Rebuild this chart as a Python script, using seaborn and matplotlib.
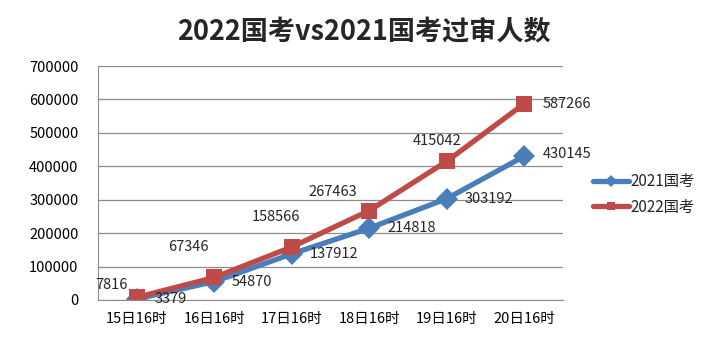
import pandas as pd
import numpy as np
import matplotlib
matplotlib.use('Agg')
import matplotlib.pyplot as plt
import seaborn as sns
from matplotlib.lines import Line2D

# ------------------------------
# data
# ------------------------------
times = ['15日16时', '16日16时', '17日16时', '18日16时', '19日16时', '20日16时']
counts_2021 = [3379, 54870, 137912, 214818, 303192, 430145]
counts_2022 = [7816, 67346, 158566, 267463, 415042, 587266]
series_names = ['2021国考', '2022国考']

df = pd.DataFrame({
    'time': times * 2,
    'count': counts_2021 + counts_2022,
    'series': [series_names[0]] * len(times) + [series_names[1]] * len(times),
})

# ------------------------------
# style
# ------------------------------
sns.set_style('white')
plt.rcParams['font.family'] = ['Noto Sans CJK SC', 'DejaVu Sans']

blue = '#4A7EBB'
red = '#BE4B48'
palette = {series_names[0]: blue, series_names[1]: red}

fig = plt.figure(figsize=(7.28, 3.57), dpi=100)
ax = fig.add_axes([0.1346, 0.1597, 0.6388, 0.6554])

sns.lineplot(data=df, x='time', y='count', hue='series', style='series',
             markers={series_names[0]: 'D', series_names[1]: 's'},
             dashes=False, palette=palette, linewidth=3.8, markersize=11,
             markeredgewidth=0, sort=False, ax=ax, legend=False)

ax.set_xlim(-0.5, len(times) - 0.5)
ax.set_ylim(0, 700000)
ax.set_yticks(np.arange(0, 700001, 100000))
ax.set_yticklabels([str(v) for v in range(0, 700001, 100000)])
ax.yaxis.grid(True, color='#8c8c8c', linewidth=0.9)
ax.set_axisbelow(True)
ax.set_xlabel('')
ax.set_ylabel('')
for side in ['top', 'right']:
    ax.spines[side].set_visible(False)
ax.spines['left'].set_color('#8c8c8c')
ax.spines['bottom'].set_color('#8c8c8c')
ax.tick_params(axis='both', length=0, labelsize=10.5, colors='black')
ax.tick_params(axis='y', pad=14)
ax.tick_params(axis='x', pad=9)

# data labels (offsets in pixels)
off_2021 = [(34, 0), (38, 0), (42, 0), (42, 0), (42, 0), (43, 2)]
off_2022 = [(-25, 12), (-26, 30), (-16, 30), (-37, 19), (-10, 20), (43, 0)]
for i, (v, o) in enumerate(zip(counts_2021, off_2021)):
    ax.annotate(str(v), (i, v), xytext=o, textcoords='offset pixels',
                ha='center', va='center', fontsize=10.5)
for i, (v, o) in enumerate(zip(counts_2022, off_2022)):
    ax.annotate(str(v), (i, v), xytext=o, textcoords='offset pixels',
                ha='center', va='center', fontsize=10.5)

# legend
handles = [
    Line2D([], [], color=blue, linewidth=3.8, marker='D', markersize=6, markeredgewidth=0),
    Line2D([], [], color=red, linewidth=3.8, marker='s', markersize=6, markeredgewidth=0),
]
fig.legend(handles, series_names, loc='center left', bbox_to_anchor=(0.795, 0.455),
           frameon=False, fontsize=11, handlelength=2.4, handletextpad=0.1,
           labelspacing=0.55)

fig.text(0.5, 0.91, '2022国考vs2021国考过审人数', ha='center', va='center',
         fontsize=19.5, fontweight='bold')

fig.savefig('out.png', dpi=100)
